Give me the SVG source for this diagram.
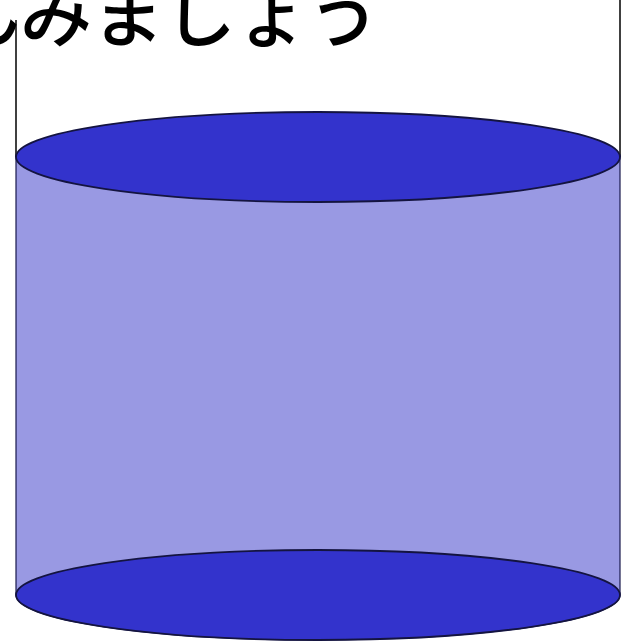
<svg xmlns="http://www.w3.org/2000/svg" width="627" height="641" viewBox="0 0 627 641">
<style>
.t{font-family:"Noto Sans CJK JP","Noto Sans",sans-serif;font-size:72px;font-weight:500;fill:#000}
.ln{stroke:#000;stroke-width:1.5;fill:none}
.cap{fill:#3333cc;stroke:#141440;stroke-width:1.8}
.body{fill:#9999e3;stroke:#1a1a4d;stroke-width:1.2}
</style>
<g id="label"><text class="t" x="-52" y="41">んみましょう</text></g>
<g id="connectors">
<line class="ln" x1="16" y1="20" x2="16" y2="157"/>
<line class="ln" x1="620" y1="0" x2="620" y2="157"/>
</g>
<g id="cylinder">
<path class="body" d="M16,157 L16,595 A302,45 0 0 0 620,595 L620,157 Z"/>
<ellipse class="cap" cx="318" cy="595" rx="302" ry="45"/>
<ellipse class="cap" cx="318" cy="157" rx="302" ry="45"/>
</g>
</svg>
